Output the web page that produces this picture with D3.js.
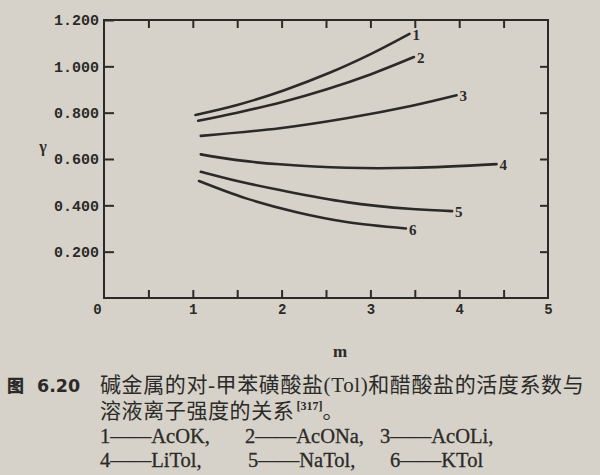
<!DOCTYPE html>
<html><head><meta charset="utf-8">
<script src="https://cdn.jsdelivr.net/npm/d3@7/dist/d3.min.js"></script>
<style>
html,body{margin:0;padding:0;background:#d6d2c9;}
svg{display:block;}
</style></head>
<body>
<svg id="chart" width="600" height="475"></svg>
<script>
// ---- data ----
const xTicks = [0, 1, 2, 3, 4, 5];
const xMinorTicks = [0.5, 1, 1.5, 2, 2.5, 3, 3.5, 4, 4.5];
const yTicks = [0.2, 0.4, 0.6, 0.8, 1.0, 1.2];
const yTickLabels = ["0.200", "0.400", "0.600", "0.800", "1.000", "1.200"];
const seriesLabels = ["1", "2", "3", "4", "5", "6"];
const m1 = [1.03, 1.5, 2.03, 2.54, 3.02, 3.44];
const g1 = [0.79, 0.833, 0.897, 0.972, 1.056, 1.14];
const m2 = [1.06, 1.5, 2.0, 2.5, 3.0, 3.49];
const g2 = [0.765, 0.80, 0.845, 0.90, 0.965, 1.04];
const m3 = [1.09, 1.98, 2.73, 3.47, 3.97];
const g3 = [0.70, 0.733, 0.776, 0.83, 0.875];
const m4 = [1.09, 1.5, 1.98, 2.73, 3.47, 4.42];
const g4 = [0.62, 0.595, 0.577, 0.562, 0.562, 0.578];
const m5 = [1.09, 1.5, 1.98, 2.73, 3.47, 3.92];
const g5 = [0.545, 0.505, 0.466, 0.414, 0.384, 0.375];
const m6 = [1.07, 1.6, 2.17, 2.73, 3.4];
const g6 = [0.505, 0.43, 0.37, 0.328, 0.30];
const mSeries = [m1, m2, m3, m4, m5, m6];
const gSeries = [g1, g2, g3, g4, g5, g6];
const captionNo = "6.20";
const captionLine1 = "碱金属的对-甲苯磺酸盐(Tol)和醋酸盐的活度系数与";
const captionLine2 = "溶液离子强度的关系";
const captionRef = "[317]";
const legendRow1 = ["1——AcOK,", "2——AcONa,", "3——AcOLi,"];
const legendRow2 = ["4——LiTol,", "5——NaTol,", "6——KTol"];

// ---- drawing ----
const ink = "#2b2a28";
const svg = d3.select("#chart");
const x = d3.scaleLinear().domain([0, 5]).range([104, 548]);
const y = d3.scaleLinear().domain([0, 1.2]).range([298, 20]);

// frame
svg.append("rect").attr("x", x(0)).attr("y", y(1.2))
  .attr("width", x(5) - x(0)).attr("height", y(0) - y(1.2))
  .attr("fill", "none").attr("stroke", ink).attr("stroke-width", 2);

const monoFont = "'Liberation Mono', 'DejaVu Sans Mono', monospace";

// left axis ticks & labels (ticks point inward)
const yAxisL = d3.axisLeft(y).tickValues(yTicks).tickSize(0)
  .tickFormat((d, i) => yTickLabels[i]).tickPadding(5);
const gl = svg.append("g").attr("transform", `translate(${x(0)},0)`).call(yAxisL);
gl.select(".domain").remove();
gl.selectAll(".tick line").attr("stroke", ink).attr("stroke-width", 2).attr("x2", 10);
gl.selectAll(".tick text")
  .style("font-family", monoFont)
  .style("font-weight", "bold").style("font-size", "15px").attr("fill", ink);

// right axis ticks (inward)
const yAxisR = d3.axisRight(y).tickValues(yTicks.filter(v => v < 1.2)).tickSize(-8).tickFormat("");
const gr = svg.append("g").attr("transform", `translate(${x(5)},0)`).call(yAxisR);
gr.select(".domain").remove();
gr.selectAll(".tick line").attr("stroke", ink).attr("stroke-width", 2);

// bottom axis ticks (inward, every 0.5)
const xAxisB = d3.axisBottom(x).tickValues(xMinorTicks).tickSize(-8).tickFormat("");
const gb = svg.append("g").attr("transform", `translate(0,${y(0)})`).call(xAxisB);
gb.select(".domain").remove();
gb.selectAll(".tick line").attr("stroke", ink).attr("stroke-width", 2);
// bottom labels
const xAxisLab = d3.axisBottom(x).tickValues(xTicks).tickSize(0).tickPadding(6).tickFormat(d3.format("d"));
const gbl = svg.append("g").attr("transform", `translate(0,${y(0)})`).call(xAxisLab);
gbl.select(".domain").remove();
gbl.selectAll(".tick text")
  .style("font-family", monoFont)
  .style("font-weight", "bold").style("font-size", "14px").attr("fill", ink)
  .attr("dx", d => d === 0 ? -7 : 0);

// top axis ticks (inward)
const xAxisT = d3.axisTop(x).tickValues(xMinorTicks).tickSize(-8).tickFormat("");
const gt = svg.append("g").attr("transform", `translate(0,${y(1.2)})`).call(xAxisT);
gt.select(".domain").remove();
gt.selectAll(".tick line").attr("stroke", ink).attr("stroke-width", 2);

// curves
const line = d3.line().x(d => x(d[0])).y(d => y(d[1])).curve(d3.curveCatmullRom.alpha(0.5));
mSeries.forEach((ms, i) => {
  const pts = ms.map((m, j) => [m, gSeries[i][j]]);
  svg.append("path").datum(pts).attr("d", line)
    .attr("fill", "none").attr("stroke", ink).attr("stroke-width", 2.6)
    .attr("stroke-linecap", "round");
  const last = pts[pts.length - 1];
  svg.append("text").attr("x", x(last[0]) + 3).attr("y", y(last[1]) + 6)
    .text(seriesLabels[i])
    .style("font-family", "'Liberation Serif', serif").style("font-weight", "bold")
    .style("font-size", "15px").attr("fill", ink);
});

// axis titles
svg.append("text").attr("x", 43).attr("y", 152).attr("text-anchor", "middle")
  .text("γ").style("font-family", "'Liberation Serif', serif").style("font-size", "16px")
  .style("font-weight", "bold").attr("fill", ink);
svg.append("text").attr("x", 340).attr("y", 357).attr("text-anchor", "middle")
  .text("m").style("font-family", "'Liberation Serif', serif").style("font-size", "17px")
  .style("font-weight", "bold").attr("fill", ink);

// caption
const capFont = "'Liberation Serif', 'Noto Sans CJK SC', serif";
svg.append("text").attr("x", 7).attr("y", 392).text("图")
  .style("font-family", "'Noto Sans CJK SC'").style("font-weight", "900")
  .style("font-size", "17px").attr("fill", ink);
svg.append("text").attr("x", 37).attr("y", 392).text(captionNo)
  .style("font-family", "'DejaVu Sans', sans-serif").style("font-weight", "bold")
  .style("font-size", "17.5px").attr("fill", ink);
svg.append("text").attr("x", 100).attr("y", 392).text(captionLine1)
  .style("font-family", capFont).style("font-size", "21px")
  .style("letter-spacing", "0.6px").attr("fill", ink);
const l2 = svg.append("text").attr("x", 100).attr("y", 418)
  .style("font-family", capFont).style("font-size", "21px")
  .style("letter-spacing", "0.6px").attr("fill", ink);
l2.append("tspan").text(captionLine2);
l2.append("tspan").text(captionRef).attr("dy", -8).attr("dx", 2)
  .style("font-size", "12px").style("font-weight", "bold").style("letter-spacing", "0px");
l2.append("tspan").text("。").attr("dy", 8);

const legX = [100, 245, 380];
const legX2 = [100, 248, 390];
[legendRow1, legendRow2].forEach((row, r) => {
  row.forEach((t, k) => {
    svg.append("text").attr("x", (r === 0 ? legX : legX2)[k]).attr("y", r === 0 ? 443 : 467)
      .text(t).style("font-family", capFont).style("font-size", "20.5px")
      .attr("fill", ink).attr("stroke", ink).attr("stroke-width", 0.3);
  });
});
</script>
</body></html>
